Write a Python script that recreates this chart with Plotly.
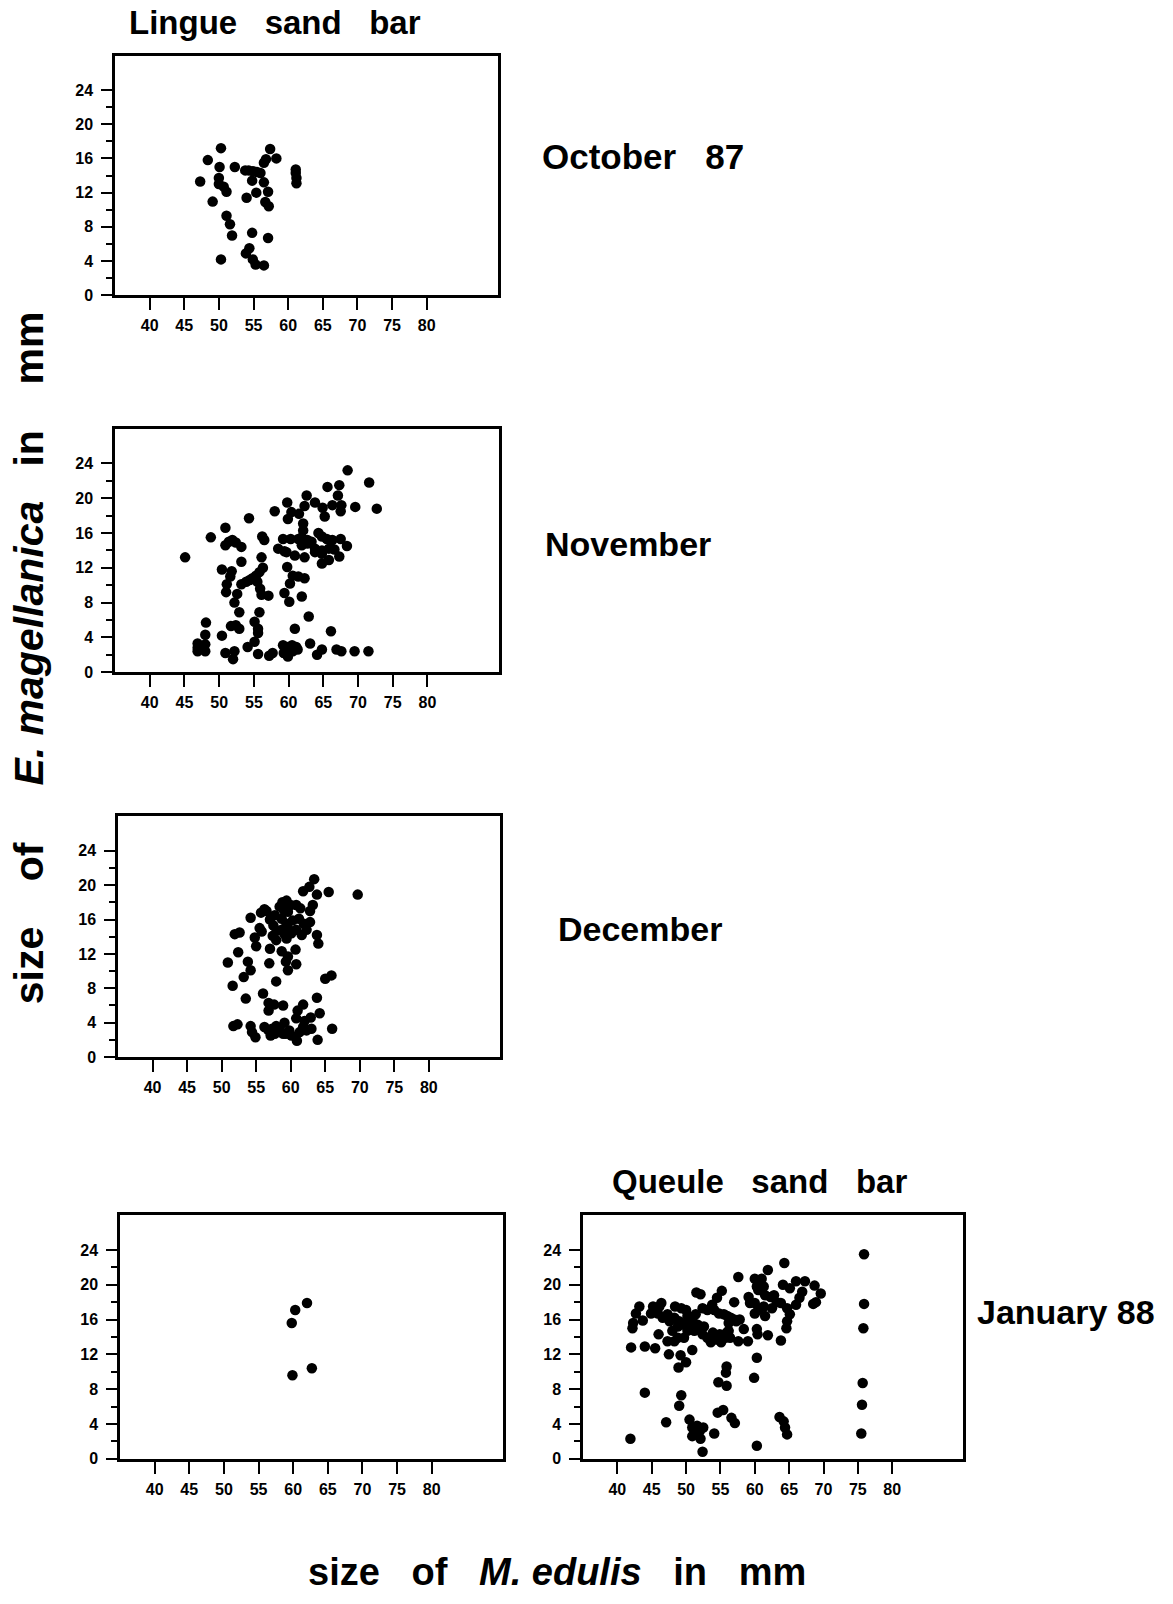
import plotly.graph_objects as go

W, H = 1173, 1604

# ---------------- data (x = size of M. edulis, y = size of E. magellanica, mm) -------------
oct_points = [(50.3,17.2),(48.4,15.8),(50.1,15.0),(52.3,15.0),(57.4,17.1),(58.3,16.0),(56.5,15.5),(56.8,15.9),
              (53.8,14.6),(54.3,14.6),(54.9,14.5),(55.5,14.4),(56.0,14.3),(61.1,14.7),(61.1,14.3),(61.2,13.7),
              (61.2,13.1),(47.3,13.3),(50.0,13.7),(50.0,13.0),(50.7,12.7),(51.1,12.1),(54.8,13.4),(56.5,13.2),
              (54.0,11.4),(55.4,12.0),(57.1,12.1),(56.7,10.9),(57.2,10.4),(49.1,10.95),(51.1,9.3),(51.6,8.3),
              (51.9,7.0),(54.8,7.3),(57.1,6.7),(54.4,5.5),(53.9,4.9),(50.3,4.2),(54.9,4.2),(55.3,3.6),(56.5,3.5)]

nov_points = [(68.5,23.2),(71.6,21.8),(65.6,21.3),(67.3,21.5),(67.1,20.3),(62.6,20.3),(59.8,19.5),(63.8,19.5),
              (62.3,19.1),(64.9,18.9),(66.3,19.2),(67.6,19.2),(67.5,18.5),(69.6,19.0),(72.7,18.8),(58.0,18.5),
              (60.4,18.4),(61.5,18.2),(59.9,17.6),(65.2,17.9),(54.3,17.7),(62.1,17.1),(62.1,16.3),(50.9,16.6),
              (48.8,15.5),(56.2,15.6),(56.5,15.2),(50.9,14.6),(51.4,15.0),(51.9,15.2),(52.4,14.9),(53.2,14.4),
              (59.2,15.3),(60.3,15.3),(61.4,15.3),(61.9,15.5),(62.7,15.2),(63.3,15.0),(64.3,16.0),(64.8,15.6),
              (65.5,15.3),(66.3,15.2),(67.5,15.3),(61.9,14.6),(62.7,14.8),(63.8,14.2),(64.8,14.0),(65.8,14.2),
              (66.6,14.1),(68.4,14.5),(58.5,14.2),(59.4,13.9),(59.7,13.8),(60.9,13.4),(62.3,13.2),(63.8,13.8),
              (64.8,12.5),(65.8,12.9),(67.3,13.3),(64.8,13.6),(45.1,13.2),(56.1,13.2),(53.2,12.7),(50.4,11.8),
              (51.8,11.6),(51.6,11.0),(56.3,12.0),(55.8,11.5),(55.3,11.1),(54.8,10.8),(54.4,10.6),(53.9,10.4),
              (59.8,12.1),(60.6,11.1),(61.4,11.0),(62.3,10.8),(51.1,10.1),(51.0,9.2),(53.2,10.1),(55.5,10.4),
              (55.9,9.6),(56.1,8.9),(57.1,8.8),(60.2,10.2),(59.4,9.1),(60.1,8.1),(61.9,8.7),(52.6,9.0),
              (52.2,8.0),(52.9,6.9),(55.8,6.9),(62.9,6.4),(48.1,5.7),(51.7,5.3),(52.4,5.4),(52.9,5.0),
              (55.1,5.8),(55.6,5.0),(55.6,4.5),(60.9,5.0),(66.1,4.7),(48.0,4.3),(50.4,4.2),(46.9,3.3),
              (46.9,2.4),(48.0,3.2),(48.0,2.4),(46.9,2.8),(47.6,2.7),(55.1,3.5),(54.1,2.9),(63.1,3.3),
              (59.2,3.1),(59.9,2.9),(60.5,3.1),(61.1,2.9),(59.3,2.2),(59.9,1.8),(60.6,2.4),(61.3,2.6),
              (64.8,2.6),(64.1,2.0),(66.9,2.6),(67.6,2.4),(69.5,2.4),(71.5,2.4),(50.9,2.2),(52.2,2.4),
              (52.0,1.5),(55.6,2.1),(57.2,1.9),(57.7,2.2)]

dec_points = [(63.4,20.7),(62.7,19.8),(61.8,19.3),(63.8,18.9),(65.5,19.2),(69.7,18.9),(63.2,17.7),(62.8,17.0),
              (58.8,18.0),(59.4,18.2),(60.0,17.7),(60.8,17.7),(61.4,17.3),(58.4,17.5),(59.0,17.1),(59.6,16.9),
              (56.2,17.2),(55.7,16.8),(56.5,17.0),(54.2,16.2),(57.0,16.0),(57.7,16.5),(58.7,16.1),(59.4,15.5),
              (60.3,15.9),(61.2,16.1),(61.9,15.5),(62.8,15.7),(62.3,14.8),(55.5,15.0),(55.8,14.6),(57.5,15.3),
              (58.0,14.7),(57.4,14.1),(57.9,13.6),(58.7,14.8),(59.1,14.3),(59.6,15.0),(60.1,14.4),(60.8,14.8),
              (61.6,14.2),(59.4,13.8),(51.9,14.3),(52.6,14.5),(54.8,13.9),(55.0,12.9),(63.8,14.2),(64.0,13.2),
              (57.0,12.6),(52.4,12.2),(58.7,12.3),(59.6,11.7),(59.3,11.1),(59.6,10.1),(60.7,12.5),(60.8,10.8),
              (50.9,11.0),(53.8,11.1),(54.2,10.1),(56.9,10.9),(53.2,9.3),(65.0,9.1),(65.9,9.5),(57.9,8.8),
              (51.6,8.3),(53.5,6.8),(56.0,7.4),(56.8,6.3),(57.6,6.1),(58.9,6.0),(56.8,5.4),(61.8,6.1),
              (61.0,5.4),(63.8,6.9),(62.9,4.6),(64.2,5.1),(60.8,4.5),(62.0,4.2),(51.7,3.6),(52.3,3.8),
              (54.2,3.6),(54.4,2.9),(54.9,2.3),(56.2,3.5),(56.8,3.1),(57.1,2.5),(57.9,3.6),(58.4,3.3),
              (59.1,4.0),(59.3,2.7),(59.8,3.1),(58.9,2.7),(60.1,2.5),(60.9,1.9),(61.3,2.9),(61.8,3.5),
              (62.3,3.1),(63.0,3.3),(63.9,2.0),(66.0,3.3),(57.3,3.3),(57.7,2.7)]

jan_lingue_points = [(59.8,15.6),(60.3,17.1),(62.0,17.9),(59.9,9.6),(62.7,10.4)]

jan_queule_points = [(75.9,23.5),(75.9,17.8),(75.8,15.0),(75.7,8.7),(75.6,6.2),(75.5,2.9),
                     (64.3,22.5),(61.9,21.7),(57.6,20.9),(60.0,20.7),(61.0,20.7),(64.1,20.0),(65.1,19.6),
                     (66.0,20.4),(67.3,20.4),(68.7,19.9),(69.6,19.0),(66.9,19.2),(66.5,18.5),(66.0,17.7),
                     (68.5,17.8),(68.9,18.0),(60.3,19.8),(60.5,19.4),(61.3,19.8),(61.5,18.8),(62.3,18.6),
                     (62.8,18.8),(63.2,18.0),(62.5,17.3),(59.1,18.6),(59.3,17.9),(60.0,17.9),(60.5,17.1),
                     (61.3,17.5),(61.5,16.4),(60.0,16.7),(63.8,17.9),(64.7,17.3),(65.1,16.6),(64.7,15.8),
                     (64.6,15.0),(63.8,13.6),(61.9,14.2),(60.3,14.9),(60.4,14.3),(59.0,13.5),(58.4,14.9),
                     (57.6,13.5),(57.0,18.0),(55.2,19.3),(51.5,19.1),(52.1,18.9),(54.5,18.5),(53.8,17.7),
                     (53.1,17.1),(52.4,17.3),(54.1,17.1),(54.8,16.7),(55.5,16.6),(56.0,16.4),(56.5,16.2),
                     (57.0,16.0),(56.2,15.6),(57.3,15.8),(57.8,16.0),(51.4,16.6),(50.9,16.0),(50.7,15.6),
                     (51.7,15.4),(52.6,15.2),(51.9,14.9),(51.2,14.7),(52.4,14.3),(53.1,13.9),(53.6,13.4),
                     (54.4,13.7),(55.1,13.4),(53.9,14.5),(54.9,14.3),(55.7,13.9),(56.2,14.7),(56.4,13.9),
                     (55.9,14.5),(48.4,17.5),(49.3,17.3),(50.0,17.1),(50.2,16.4),(48.3,16.2),(48.8,15.2),
                     (48.0,14.7),(48.8,13.9),(49.7,13.9),(50.2,14.7),(49.7,15.4),(49.0,15.8),(47.3,16.6),
                     (47.6,15.8),(46.6,16.2),(45.9,16.7),(45.2,17.5),(44.9,16.7),(46.1,17.5),(46.4,17.9),
                     (46.0,14.3),(47.3,13.5),(48.3,13.5),(43.2,17.5),(42.7,16.7),(42.3,15.6),(43.7,15.9),
                     (42.2,15.0),(42.0,12.8),(44.0,12.9),(45.5,12.7),(47.5,12.0),(49.2,11.9),(50.0,11.1),
                     (48.9,10.5),(50.9,12.5),(55.9,10.6),(55.8,9.9),(54.7,8.8),(55.9,8.4),(59.9,9.3),
                     (60.3,11.6),(44.0,7.6),(49.3,7.3),(49.0,6.1),(54.6,5.3),(55.4,5.6),(56.6,4.7),
                     (57.1,4.1),(47.1,4.2),(50.5,4.5),(50.9,3.6),(50.9,2.6),(51.6,3.8),(52.0,3.2),
                     (52.5,3.6),(52.1,2.3),(51.2,2.8),(52.4,0.8),(54.1,2.9),(41.9,2.3),(60.3,1.5),
                     (63.6,4.8),(64.2,4.3),(64.4,3.6),(64.7,2.8)]

x_ticks = [40, 45, 50, 55, 60, 65, 70, 75, 80]
y_ticks = [0, 4, 8, 12, 16, 20, 24]
y_minor = [2, 6, 10, 14, 18, 22]

# panel boxes in pixels: (left, right, top, bottom)
panels = [
    (oct_points,        (115, 498, 56, 297)),
    (nov_points,        (115, 499, 431, 676)),
    (dec_points,        (118, 500, 821, 1063)),
    (jan_lingue_points, (120, 503, 1222, 1467)),
    (jan_queule_points, (583, 963, 1222, 1467)),
]

FONT = "Liberation Sans"
fig = go.Figure()
tickfont = dict(family=FONT, size=16, color="black", weight="bold")

for i, (pts, (l, r, t, b)) in enumerate(panels):
    n = "" if i == 0 else str(i + 1)
    fig.add_trace(go.Scatter(
        x=[p[0] for p in pts], y=[p[1] for p in pts], mode="markers",
        marker=dict(color="black", size=10.5, line=dict(width=0)),
        xaxis="x" + n, yaxis="y" + n, showlegend=False, hoverinfo="skip"))
    fig.update_layout(**{
        "xaxis" + n: dict(domain=[l / W, r / W], range=[35, 90.3], anchor="y" + n,
                          tickvals=x_ticks, ticks="outside", ticklen=12, tickwidth=2,
                          tickcolor="black", showline=True, linewidth=2.5, linecolor="black",
                          mirror=True, showgrid=False, zeroline=False, tickfont=tickfont,
                          ticklabelstandoff=2, fixedrange=True),
        "yaxis" + n: dict(domain=[1 - b / H, 1 - t / H], range=[0, 28], anchor="x" + n,
                          tickvals=y_ticks, ticks="outside", ticklen=11, tickwidth=2,
                          tickcolor="black", showline=True, linewidth=2.5, linecolor="black",
                          mirror=True, showgrid=False, zeroline=False, tickfont=tickfont,
                          ticklabelstandoff=5,
                          minor=dict(tickvals=y_minor, ticks="outside", ticklen=6,
                                     tickwidth=2, tickcolor="black", showgrid=False),
                          fixedrange=True),
    })

SP = "\u00a0"
texts = [
    ("Lingue" + SP * 3 + "sand" + SP * 3 + "bar", 275, 23, 33),
    ("October" + SP * 3 + "87", 643, 157, 35),
    ("November", 628, 547, 34),
    ("December", 640, 934, 34),
    ("Queule" + SP * 3 + "sand" + SP * 3 + "bar", 759, 1188, 33),
    ("January" + SP + "88", 1066, 1319, 34),
]
annotations = []
for txt, px, py, fs in texts:
    annotations.append(dict(text=txt, x=px / W, y=1 - py / H, xref="paper", yref="paper",
                            showarrow=False, xanchor="center", yanchor="middle",
                            font=dict(family=FONT, size=fs, color="black", weight="bold")))

ytitle = "size" + SP * 4 + "of" + SP * 5 + "<i>E." + SP + "magellanica</i>" + SP * 3 + "in" + SP * 4 + "mm"
annotations.append(dict(text=ytitle, x=29 / W, y=1 - 662 / H,
                        xref="paper", yref="paper", showarrow=False, textangle=-90,
                        xanchor="center", yanchor="middle",
                        font=dict(family=FONT, size=41, color="black", weight="bold")))
xtitle = "size" + SP * 3 + "of" + SP * 3 + "<i>M." + SP + "edulis</i>" + SP * 3 + "in" + SP * 3 + "mm"
annotations.append(dict(text=xtitle, x=557 / W, y=1 - 1581 / H,
                        xref="paper", yref="paper", showarrow=False,
                        xanchor="center", yanchor="middle",
                        font=dict(family=FONT, size=38, color="black", weight="bold")))

fig.update_layout(width=W, height=H, margin=dict(l=0, r=0, t=0, b=0),
                  paper_bgcolor="white", plot_bgcolor="white", annotations=annotations)

fig.write_html("out.html", config={"displayModeBar": False})
